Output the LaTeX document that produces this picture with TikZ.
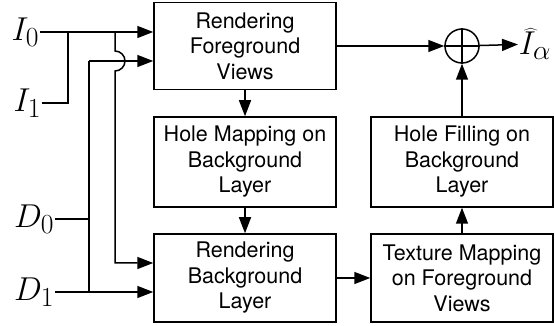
\documentclass[tikz,border=0pt]{standalone}
\usepackage{graphicx}
\usepackage{fontspec}
\newfontfamily\boxfont{TeX Gyre Heros}
\usetikzlibrary{arrows.meta}
\newcommand{\siglabel}[1]{\scalebox{1.33}{$#1$}}
\begin{document}
\begin{tikzpicture}[x=1pt,y=1pt,
  line width=1.5pt,
  stage/.style={draw, minimum width=182pt, align=center, inner sep=0pt,
    font=\boxfont\fontsize{21.5}{25.5}\selectfont},
  flow/.style={-{Triangle[length=16pt,width=12pt]}},
  lbl/.style={inner sep=0pt, font=\Huge}]
\useasboundingbox (0,0) rectangle (555,326);

% processing stages
\node[stage, minimum height=87pt] (rfv) at (245,280) {Rendering\\Foreground\\Views};
\node[stage, minimum height=90pt] (hm)  at (245,164) {Hole Mapping on\\Background\\Layer};
\node[stage, minimum height=88pt] (rbl) at (245,48)  {Rendering\\Background\\Layer};
\node[stage, minimum height=88pt] (tm)  at (462,48)  {Texture Mapping\\on Foreground\\Views};
\node[stage, minimum height=90pt] (hf)  at (462,164) {Hole Filling on\\Background\\Layer};

% summation
\node[draw, circle, minimum size=34pt, inner sep=0pt] (sum) at (462,280) {};
\draw (sum.north) -- (sum.south) (sum.west) -- (sum.east);
\node[lbl, anchor=west] (out) at (518,282) {\siglabel{\widehat{I}_\alpha}};

% inputs
\node[lbl, anchor=east] (i0) at (40,294) {\siglabel{I_0}};
\node[lbl, anchor=east] (i1) at (42,223) {\siglabel{I_1}};
\node[lbl, anchor=east] (d0) at (55,107) {\siglabel{D_0}};
\node[lbl, anchor=east] (d1) at (55,34)  {\siglabel{D_1}};

\coordinate (ja) at (68,294);
\coordinate (jb) at (89,265);
\coordinate (jc) at (115,294);
\coordinate (jd) at (115,63);

% stage connections
\draw[flow] (rfv) -- (sum);
\draw[flow] (sum) -- (out);
\draw[flow] (rfv) -- (hm);
\draw[flow] (hm) -- (rbl);
\draw[flow] (rbl) -- (tm);
\draw[flow] (tm) -- (hf);
\draw[flow] (hf) -- (sum);

% input wiring
\draw[flow] (i0) -- (i0 -| rfv.west);
\draw (i1) -| (ja);
\draw[flow] (jb) -- (jb -| rfv.west);
\draw (jb) -- (jb |- d1);
\draw (d0) -- (d0 -| jb);
\draw[flow] (d1) -- (d1 -| rbl.west);
\draw[flow] (jc) -- ([yshift=10pt]jc |- jb)
  arc[start angle=90, end angle=-90, radius=10pt]
  -- (jd) -- (jd -| rbl.west);
\end{tikzpicture}
\end{document}
